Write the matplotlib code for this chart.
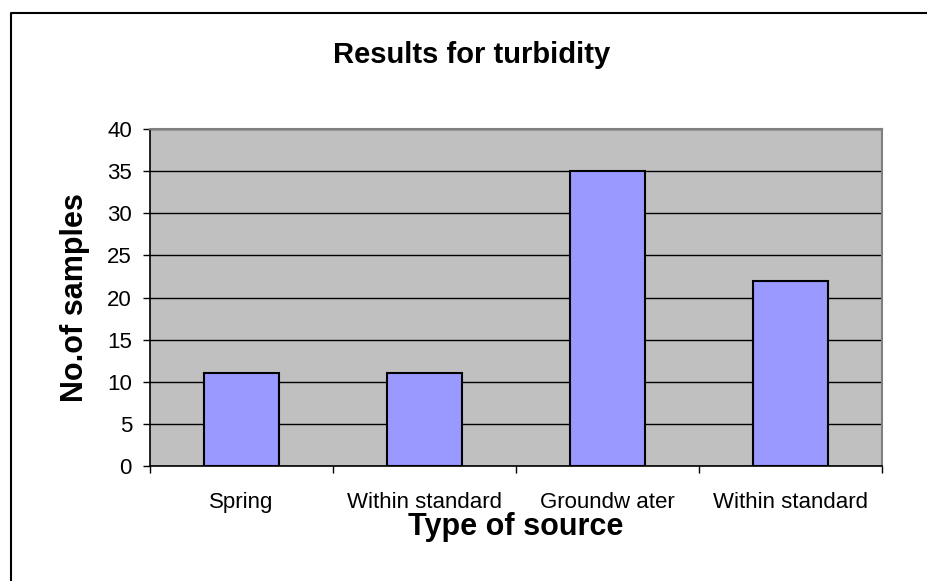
import matplotlib
matplotlib.use("Agg")
import matplotlib.pyplot as plt
from matplotlib.lines import Line2D

categories = ["Spring", "Within standard", "Groundw ater", "Within standard"]
values = [11, 11, 35, 22]
yticks = [0, 5, 10, 15, 20, 25, 30, 35, 40]

plt.rcParams['font.family'] = ['Liberation Sans', 'DejaVu Sans']

W, H = 928, 581
fig = plt.figure(figsize=(W / 100, H / 100), dpi=100)
ax = fig.add_axes([150 / W, 1 - 466 / H, (882 - 150) / W, (466 - 129) / H])
ax.set_facecolor('#C0C0C0')

x = list(range(len(categories)))
ax.bar(x, values, width=0.405, color='#9999FF', edgecolor='black', linewidth=1.5, zorder=3)

ax.set_xlim(-0.5, len(categories) - 0.5)
ax.set_ylim(0, 40)
ax.set_yticks(yticks)
ax.yaxis.grid(True, color='black', linewidth=1.0, zorder=1)
ax.set_axisbelow(True)

ax.set_xticks(x)
ax.set_xticklabels(categories, fontsize=16)
ax.set_xticks([i - 0.5 for i in range(len(categories) + 1)], minor=True)
ax.tick_params(axis='x', which='major', length=0, pad=18.5)
ax.tick_params(axis='x', which='minor', length=5, width=1, direction='out')
ax.tick_params(axis='y', length=5, width=1, direction='out', labelsize=16, pad=8)

for s in ['left', 'bottom']:
    ax.spines[s].set_color('black')
    ax.spines[s].set_linewidth(1.2)
for s in ['top', 'right']:
    ax.spines[s].set_color('#808080')
    ax.spines[s].set_linewidth(1.5)

fig.text(472 / W, 1 - 55 / H, "Results for turbidity", fontsize=21, fontweight='bold',
         ha='center', va='center')
fig.text(516 / W, 1 - 527 / H, "Type of source", fontsize=22, fontweight='bold',
         ha='center', va='center')
fig.text(75 / W, 1 - 298 / H, "No.of samples", fontsize=22, fontweight='bold',
         ha='center', va='center', rotation=90)

# outer border (top and left visible)
fig.add_artist(Line2D([11.5 / W, 11.5 / W, 1.0], [0.0, 1 - 13 / H, 1 - 13 / H],
                      transform=fig.transFigure, color='black', linewidth=1.5))

fig.savefig("out.png", dpi=100)
